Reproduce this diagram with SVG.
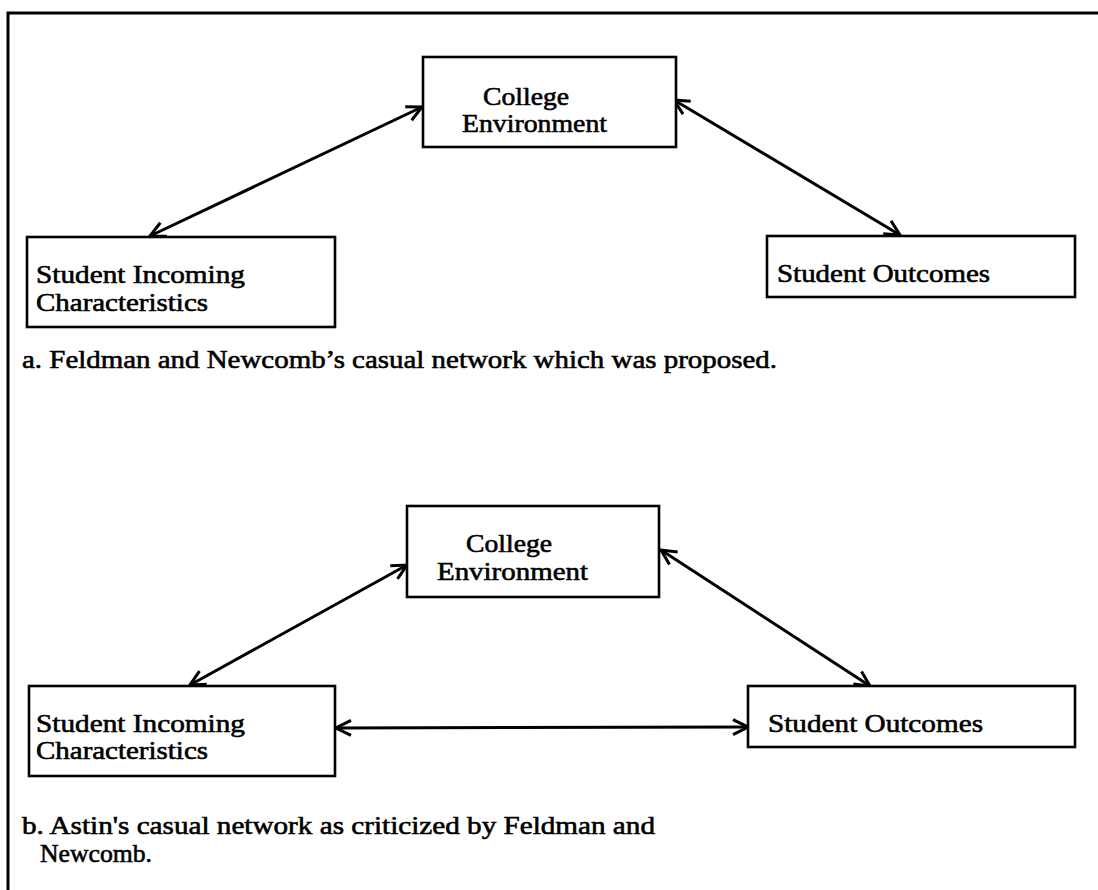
<svg xmlns="http://www.w3.org/2000/svg" width="1098" height="890" viewBox="0 0 1098 890">
<style>
.box{fill:#fff;stroke:#000;stroke-width:2.6}
.t{font-family:"Liberation Serif","Times New Roman",serif;font-size:26px;fill:#000;stroke:#000;stroke-width:0.6}
.c{fill:none;stroke:#000;stroke-width:3}
</style>
<defs>
<marker id="v" viewBox="0 0 12 12" refX="11" refY="6" markerUnits="userSpaceOnUse" markerWidth="18" markerHeight="18" orient="auto-start-reverse">
<path d="M1,1 L11,6 L1,11" fill="none" stroke="#000" stroke-width="2"/>
</marker>
</defs>
<rect width="1098" height="890" fill="#fff"/>
<path d="M8,890 L8,13 L1098,13" fill="none" stroke="#000" stroke-width="3"/>

<g id="connectors">
<line class="c" x1="150" y1="236" x2="422" y2="107" marker-start="url(#v)" marker-end="url(#v)"/>
<line class="c" x1="674" y1="100" x2="900" y2="235" marker-start="url(#v)" marker-end="url(#v)"/>
<line class="c" x1="190" y1="685" x2="407" y2="565" marker-start="url(#v)" marker-end="url(#v)"/>
<line class="c" x1="661" y1="550" x2="870" y2="686" marker-start="url(#v)" marker-end="url(#v)"/>
<line class="c" x1="336" y1="728" x2="748" y2="727" marker-start="url(#v)" marker-end="url(#v)"/>
</g>

<g id="a-college">
<rect class="box" x="423" y="57" width="253" height="90"/>
<text class="t" x="483" y="105" textLength="86" lengthAdjust="spacingAndGlyphs">College</text>
<text class="t" x="462" y="132" textLength="145" lengthAdjust="spacingAndGlyphs">Environment</text>
</g>
<g id="a-incoming">
<rect class="box" x="27" y="237" width="308" height="90"/>
<text class="t" x="36" y="283" textLength="209" lengthAdjust="spacingAndGlyphs">Student Incoming</text>
<text class="t" x="36" y="311" textLength="172" lengthAdjust="spacingAndGlyphs">Characteristics</text>
</g>
<g id="a-outcomes">
<rect class="box" x="767" y="236" width="308" height="61"/>
<text class="t" x="777" y="282" textLength="213" lengthAdjust="spacingAndGlyphs">Student Outcomes</text>
</g>
<g id="caption-a">
<text class="t" x="22" y="368" textLength="755" lengthAdjust="spacingAndGlyphs">a. Feldman and Newcomb’s casual network which was proposed.</text>
</g>

<g id="b-college">
<rect class="box" x="407" y="506" width="252" height="91"/>
<text class="t" x="466" y="552" textLength="86" lengthAdjust="spacingAndGlyphs">College</text>
<text class="t" x="437" y="580" textLength="151" lengthAdjust="spacingAndGlyphs">Environment</text>
</g>
<g id="b-incoming">
<rect class="box" x="29" y="686" width="306" height="90"/>
<text class="t" x="36" y="732" textLength="209" lengthAdjust="spacingAndGlyphs">Student Incoming</text>
<text class="t" x="36" y="759" textLength="172" lengthAdjust="spacingAndGlyphs">Characteristics</text>
</g>
<g id="b-outcomes">
<rect class="box" x="748" y="686" width="327" height="61"/>
<text class="t" x="768" y="732" textLength="215" lengthAdjust="spacingAndGlyphs">Student Outcomes</text>
</g>
<g id="caption-b">
<text class="t" x="22" y="834" textLength="633" lengthAdjust="spacingAndGlyphs">b. Astin's casual network as criticized by Feldman and</text>
<text class="t" x="40" y="862" textLength="112" lengthAdjust="spacingAndGlyphs">Newcomb.</text>
</g>
</svg>
